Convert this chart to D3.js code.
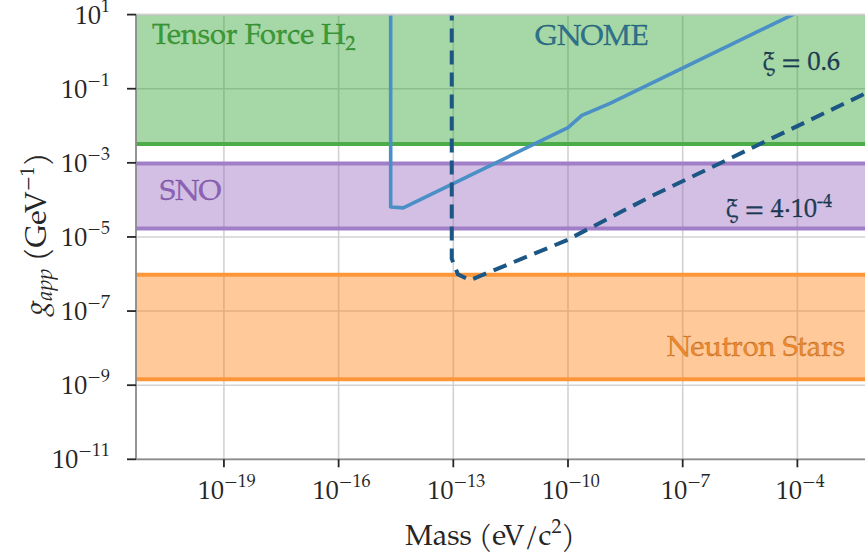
<!DOCTYPE html>
<html>
<head>
<meta charset="utf-8">
<script src="https://cdn.jsdelivr.net/npm/d3@7"></script>
<style>
  html, body { margin: 0; padding: 0; background: #fff; }
  svg { display: block; font-family: "TeX Gyre Pagella", "Liberation Serif", serif; }
</style>
</head>
<body>
<svg id="chart" width="865" height="553"></svg>
<script>
// Tick positions (powers of ten)
const xTickExps = [-19, -16, -13, -10, -7, -4];
const yTickExps = [1, -1, -3, -5, -7, -9, -11];

// Excluded regions in coupling g_app (GeV^-1): [lower, upper]
const bandNames = ["Tensor Force H2", "SNO", "Neutron Stars"];
const bandLower = [3.2e-3, 1.7e-5, 1.45e-9];
const bandUpper = [1e3, 9.6e-4, 9.5e-7];

// GNOME sensitivity, xi = 0.6 (mass in eV/c^2, coupling in GeV^-1)
const gnomeMass06 = [2.3e-15, 2.3e-15, 4.9e-15, 1.0e-10, 2.3e-10, 1.26e-9, 7.6e-5, 1e-2];
const gnomeG06    = [1e3,     6.4e-5,  6.1e-5,  8.9e-3,  1.9e-2,  4.0e-2,  1.0e1,  1.15e2];

// GNOME sensitivity, xi = 4e-4
const gnomeMass4e4 = [9.1e-14, 9.1e-14, 1.32e-13, 2.7e-13, 9.1e-11, 1.38e-8, 5.9e-3, 1e-2];
const gnomeG4e4    = [1e3,      2.6e-6,  9.8e-7,   6.8e-7,  8.1e-6,  1.2e-4,  7.4e-2, 9.6e-2];

const W = 865, H = 553;
const plotLeft = 136, plotTop = 14.6, plotBottom = 459.3;
const decX = 38.23;
const x = d3.scaleLog().domain([Math.pow(10, -21.3), 1e-2]).range([plotLeft, plotLeft + 19.3 * decX]);
const y = d3.scaleLog().domain([1e-11, 1e1]).range([plotBottom, plotTop]);

const svg = d3.select("#chart");
svg.append("defs").append("clipPath").attr("id", "plotclip")
  .append("rect").attr("x", plotLeft).attr("y", plotTop).attr("width", W - plotLeft).attr("height", plotBottom - plotTop);

// Grid
const grid = svg.append("g");
grid.selectAll("line.gx").data(xTickExps).enter().append("line")
  .attr("x1", d => x(Math.pow(10, d))).attr("x2", d => x(Math.pow(10, d)))
  .attr("y1", plotTop).attr("y2", plotBottom)
  .attr("stroke", "#d2d2d2").attr("stroke-width", 1.6);
grid.selectAll("line.gy").data(yTickExps).enter().append("line")
  .attr("y1", d => y(Math.pow(10, d))).attr("y2", d => y(Math.pow(10, d)))
  .attr("x1", plotLeft).attr("x2", W)
  .attr("stroke", "#d2d2d2").attr("stroke-width", 1.6);

// Bands
const bandFill = ["#2ca02c", "#9467bd", "#ff7f0e"];
const bandLine = ["#4cad48", "#a17fc8", "#fd9638"];
const plot = svg.append("g").attr("clip-path", "url(#plotclip)");
bandNames.forEach((n, i) => {
  const y0 = y(bandUpper[i]), y1 = y(bandLower[i]);
  plot.append("rect").attr("x", plotLeft).attr("width", W - plotLeft)
    .attr("y", y0).attr("height", y1 - y0)
    .attr("fill", bandFill[i]).attr("fill-opacity", 0.42);
  [bandUpper[i], bandLower[i]].forEach(v => {
    plot.append("line").attr("x1", plotLeft).attr("x2", W)
      .attr("y1", y(v)).attr("y2", y(v))
      .attr("stroke", bandLine[i]).attr("stroke-width", 4);
  });
});

// Sensitivity curves
const line = d3.line().x(d => x(d[0])).y(d => y(d[1]));
plot.append("path")
  .datum(gnomeMass06.map((m, i) => [m, gnomeG06[i]]))
  .attr("d", line).attr("fill", "none")
  .attr("stroke", "#4a90c6").attr("stroke-width", 3.6).attr("stroke-linejoin", "round");
plot.append("path")
  .datum(gnomeMass4e4.map((m, i) => [m, gnomeG4e4[i]]))
  .attr("d", line).attr("fill", "none")
  .attr("stroke", "#1b5684").attr("stroke-width", 4).attr("stroke-dasharray", "14,8");

// Spines
svg.append("line").attr("x1", plotLeft).attr("x2", W).attr("y1", plotTop).attr("y2", plotTop)
  .attr("stroke", "#cfcfcf").attr("stroke-width", 1.6);
svg.append("line").attr("x1", plotLeft).attr("x2", plotLeft).attr("y1", plotTop).attr("y2", plotBottom)
  .attr("stroke", "#8a8a8a").attr("stroke-width", 1.8);
svg.append("line").attr("x1", plotLeft).attr("x2", W).attr("y1", plotBottom).attr("y2", plotBottom)
  .attr("stroke", "#8a8a8a").attr("stroke-width", 1.8);

// Ticks + labels (10 with superscript exponent)
function powLabel(sel, e) {
  sel.append("tspan").text("10");
  sel.append("tspan").attr("dy", -12).attr("font-size", 18).text(e < 0 ? "\u2212" + (-e) : String(e));
}
const xa = svg.append("g");
xTickExps.forEach(e => {
  const px = x(Math.pow(10, e));
  xa.append("line").attr("x1", px).attr("x2", px).attr("y1", plotBottom).attr("y2", plotBottom + 8)
    .attr("stroke", "#262626").attr("stroke-width", 1.8);
  const t = xa.append("text").attr("x", px + 3).attr("y", 499)
    .attr("text-anchor", "middle").attr("font-size", 26).attr("fill", "#262626");
  powLabel(t, e);
});
const ya = svg.append("g");
yTickExps.forEach(e => {
  const py = y(Math.pow(10, e));
  ya.append("line").attr("x1", plotLeft - 9).attr("x2", plotLeft).attr("y1", py).attr("y2", py)
    .attr("stroke", "#262626").attr("stroke-width", 1.8);
  const t = ya.append("text").attr("x", 110).attr("y", py + 9)
    .attr("text-anchor", "end").attr("font-size", 26).attr("fill", "#262626");
  powLabel(t, e);
});

// Axis titles
const xt = svg.append("text").attr("x", 490).attr("y", 545).attr("text-anchor", "middle")
  .attr("font-size", 29).attr("fill", "#262626");
xt.append("tspan").text("Mass (eV/c");
xt.append("tspan").attr("dy", -12).attr("font-size", 20).text("2");
xt.append("tspan").attr("dy", 12).text(")");

const yt = svg.append("text").attr("transform", "translate(46,234) rotate(-90)")
  .attr("text-anchor", "middle").attr("font-size", 30).attr("fill", "#262626");
yt.append("tspan").attr("font-style", "italic").text("g");
yt.append("tspan").attr("font-style", "italic").attr("font-size", 22).attr("dy", 6).text("app");
yt.append("tspan").attr("dy", -6).text(" (GeV");
yt.append("tspan").attr("dy", -12).attr("font-size", 20).text("\u22121");
yt.append("tspan").attr("dy", 12).text(")");

// Region and curve labels
const ann = svg.append("g").attr("font-size", 29);
const tf = ann.append("text").attr("x", 152).attr("y", 44)
  .attr("fill", "#3a9c36").attr("stroke", "#2a7a28").attr("stroke-width", 0.3);
tf.append("tspan").text("Tensor Force H");
tf.append("tspan").attr("dy", 6).attr("font-size", 20).text("2");
ann.append("text").attr("x", 535).attr("y", 45).text("GNOME")
  .attr("fill", "#2b7390").attr("stroke", "#1d4f63").attr("stroke-width", 0.3);
ann.append("text").attr("x", 160).attr("y", 200).text("SNO")
  .attr("fill", "#8e62b8").attr("stroke", "#6a4590").attr("stroke-width", 0.3);
ann.append("text").attr("x", 845).attr("y", 356).attr("text-anchor", "end").text("Neutron Stars")
  .attr("fill", "#f0892c").attr("stroke", "#a85a1a").attr("stroke-width", 0.3);
ann.append("text").attr("x", 840).attr("y", 70).attr("text-anchor", "end").text("\u03be = 0.6")
  .attr("font-size", 26)
  .attr("fill", "#1b3f5c").attr("stroke", "#0f2233").attr("stroke-width", 0.3);
const xi2 = ann.append("text").attr("x", 832).attr("y", 217).attr("text-anchor", "end")
  .attr("font-size", 26)
  .attr("fill", "#1b3f5c").attr("stroke", "#0f2233").attr("stroke-width", 0.3);
xi2.append("tspan").text("\u03be = 4\u00b710");
xi2.append("tspan").attr("dy", -10).attr("font-size", 18).text("-4");
</script>
</body>
</html>
